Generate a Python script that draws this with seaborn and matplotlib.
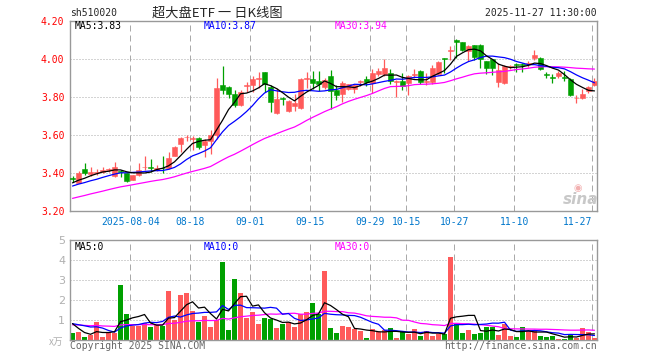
import matplotlib
matplotlib.use("Agg")
import matplotlib.pyplot as plt
import seaborn as sns
import pandas as pd
import numpy as np

# daily bars of sh510020 (07-21 .. 11-27)
open_ = [3.375, 3.350, 3.423, 3.395, 3.400, 3.407, 3.416, 3.385, 3.410, 3.400,
         3.365, 3.390, 3.430, 3.432, 3.418, 3.428, 3.426, 3.491, 3.555, 3.588,
         3.578, 3.583, 3.547, 3.568, 3.600, 3.863, 3.853, 3.816, 3.758, 3.860,
         3.863, 3.893, 3.930, 3.854, 3.718, 3.793, 3.728, 3.755, 3.740, 3.893,
         3.894, 3.886, 3.852, 3.908, 3.838, 3.815, 3.842, 3.840, 3.880, 3.895,
         3.874, 3.918, 3.918, 3.923, 3.878, 3.884, 3.872, 3.917, 3.937, 3.878,
         3.880, 3.919, 4.002, 4.040, 4.100, 4.086, 4.039, 4.070, 4.074, 3.986,
         4.000, 3.877, 3.875, 3.955, 3.972, 3.975, 3.973, 4.003, 4.005, 3.920,
         3.902, 3.909, 3.902, 3.895, 3.793, 3.795, 3.833, 3.865]
high = [3.387, 3.409, 3.456, 3.430, 3.420, 3.430, 3.425, 3.460, 3.418, 3.402,
        3.392, 3.456, 3.490, 3.474, 3.444, 3.491, 3.510, 3.544, 3.590, 3.600,
        3.593, 3.590, 3.580, 3.627, 3.900, 3.963, 3.855, 3.839, 3.839, 3.880,
        3.912, 3.930, 3.932, 3.863, 3.846, 3.800, 3.786, 3.815, 3.897, 3.930,
        3.935, 3.935, 3.900, 3.943, 3.864, 3.882, 3.870, 3.870, 3.890, 3.910,
        3.944, 3.953, 4.000, 3.944, 3.890, 3.925, 3.916, 3.947, 3.940, 3.925,
        3.968, 3.990, 4.004, 4.065, 4.102, 4.090, 4.074, 4.074, 4.077, 3.990,
        4.000, 3.977, 3.965, 3.970, 3.980, 3.978, 3.988, 4.044, 4.008, 3.930,
        3.918, 3.935, 3.935, 3.900, 3.812, 3.840, 3.856, 3.900]
low = [3.356, 3.347, 3.390, 3.383, 3.390, 3.400, 3.405, 3.380, 3.380, 3.355,
       3.362, 3.386, 3.415, 3.404, 3.414, 3.400, 3.420, 3.490, 3.510, 3.570,
       3.520, 3.527, 3.487, 3.503, 3.580, 3.814, 3.793, 3.746, 3.755, 3.828,
       3.825, 3.846, 3.828, 3.723, 3.710, 3.760, 3.720, 3.725, 3.735, 3.848,
       3.840, 3.829, 3.840, 3.736, 3.782, 3.771, 3.835, 3.820, 3.856, 3.860,
       3.820, 3.910, 3.909, 3.870, 3.800, 3.837, 3.810, 3.898, 3.868, 3.863,
       3.867, 3.916, 3.925, 3.995, 4.003, 4.040, 3.986, 3.995, 3.951, 3.919,
       3.916, 3.850, 3.870, 3.945, 3.930, 3.932, 3.958, 3.995, 3.940, 3.900,
       3.874, 3.900, 3.882, 3.804, 3.768, 3.790, 3.820, 3.856]
close = [3.370, 3.400, 3.400, 3.405, 3.408, 3.418, 3.420, 3.435, 3.405, 3.360,
         3.390, 3.418, 3.432, 3.428, 3.426, 3.425, 3.482, 3.537, 3.587, 3.592,
         3.582, 3.535, 3.568, 3.600, 3.847, 3.837, 3.816, 3.758, 3.825, 3.865,
         3.893, 3.897, 3.867, 3.775, 3.788, 3.787, 3.777, 3.770, 3.895, 3.897,
         3.873, 3.868, 3.887, 3.829, 3.812, 3.873, 3.866, 3.865, 3.883, 3.879,
         3.923, 3.935, 3.953, 3.882, 3.882, 3.860, 3.910, 3.921, 3.877, 3.882,
         3.954, 3.982, 3.998, 4.044, 4.086, 4.047, 4.065, 4.012, 4.000, 3.954,
         3.954, 3.940, 3.960, 3.960, 3.968, 3.965, 3.977, 4.018, 3.947, 3.916,
         3.898, 3.926, 3.898, 3.812, 3.797, 3.816, 3.851, 3.882]
# volume, in the panel's own unit
volume = [0.38, 0.42, 0.17, 0.27, 0.92, 0.17, 0.40, 0.38, 2.77, 1.32,
          0.73, 0.73, 0.88, 0.67, 0.77, 0.73, 2.47, 1.02, 2.27, 2.37,
          1.47, 0.92, 1.23, 0.67, 1.02, 3.88, 0.52, 3.07, 2.38, 1.13,
          1.42, 0.82, 1.12, 1.07, 0.62, 0.82, 0.90, 0.67, 1.30, 1.42,
          1.87, 1.30, 3.47, 0.62, 0.38, 0.72, 0.67, 0.57, 0.47, 0.12,
          0.57, 0.40, 0.52, 0.62, 0.12, 0.40, 0.32, 0.57, 0.22, 0.47,
          0.22, 0.32, 0.32, 4.17, 0.82, 0.38, 0.52, 0.32, 0.38, 0.67,
          0.67, 0.28, 0.82, 0.22, 0.18, 0.67, 0.47, 0.52, 0.22, 0.18,
          0.22, 0.08, 0.08, 0.32, 0.12, 0.62, 0.42, 0.12]

# days before the window, estimated from where the moving averages start
prior_close = [3.17, 3.18, 3.16, 3.19, 3.20, 3.18, 3.21, 3.19, 3.20, 3.22,
               3.24, 3.26, 3.25, 3.27, 3.29, 3.28, 3.30, 3.29, 3.31, 3.32,
               3.30, 3.32, 3.31, 3.33, 3.32, 3.33, 3.35, 3.34, 3.356]
prior_volume = [0.62, 0.85, 0.70, 0.55, 0.94, 0.66, 0.78, 0.58, 0.90, 0.72,
                0.80, 0.64, 0.86, 0.70, 0.60, 0.92, 0.68, 0.84, 0.74, 0.76,
                0.95, 0.70, 0.88, 0.82, 0.80, 1.60, 1.20, 0.71, 0.26]

tick_index = [10, 20, 30, 40, 50, 56, 64, 74, 87]
tick_labels = ["2025-08-04", "08-18", "09-01", "09-15", "09-29",
               "10-15", "10-27", "11-10", "11-27"]
price_ticks = [3.20, 3.40, 3.60, 3.80, 4.00, 4.20]
volume_ticks = [1, 2, 3, 4, 5]

RED = "#ff5a5a"
GREEN = "#00a000"
GRID = "#aaaaaa"
FRAME = "#999999"
MONO = "DejaVu Sans Mono"
W, H = 660, 360


def px(x, y):
    return x / W, 1 - y / H


def moving_averages(prior, values):
    s = pd.Series(prior + values)
    n0 = len(prior)
    return {n: s.rolling(n).mean().iloc[n0:].to_numpy() for n in (5, 10, 30)}


def style_axes(ax, yticks, ylim):
    ax.set_xlim(-0.42, 87.42)
    ax.set_ylim(*ylim)
    ax.set_facecolor("white")
    for sp in ax.spines.values():
        sp.set_color(FRAME)
        sp.set_linewidth(1.0)
    ax.set_yticks(yticks)
    ax.set_xticks([i - 0.37 for i in tick_index])
    ax.tick_params(length=0)
    ax.grid(False)
    for y in yticks:
        if ylim[0] < y < ylim[1]:
            ax.axhline(y, color=GRID, lw=0.72, ls=(0, (1, 2)), zorder=0)
    for x in ax.get_xticks():
        ax.axvline(x, color=GRID, lw=0.72, ls=(0, (6, 4)), zorder=0)


df = pd.DataFrame({"open": open_, "high": high, "low": low,
                   "close": close, "volume": volume})
df["x"] = np.arange(len(df))
df["up"] = df["close"] >= df["open"]
colors = np.where(df["up"], RED, GREEN)
ma_price = moving_averages(prior_close, close)
ma_vol = moving_averages(prior_volume, volume)

sns.set_theme(style="white")
plt.rcParams["font.family"] = [MONO, "Noto Sans CJK SC"]

fig = plt.figure(figsize=(W / 100, H / 100), dpi=100)
ax_p = fig.add_axes([70 / W, 1 - 211.3 / H, 527 / W, 190.6 / H])
ax_v = fig.add_axes([70 / W, 1 - 340.3 / H, 527 / W, 100.3 / H])

# price panel
style_axes(ax_p, price_ticks, (3.20, 4.20))
ax_p.set_yticklabels([f"{t:.2f}" for t in price_ticks], color="#ff0000",
                     fontsize=7, family=MONO)
ax_p.yaxis.set_tick_params(pad=4)
ax_p.set_xticklabels(tick_labels, color="#0077cc", fontsize=7, family=MONO)
ax_p.xaxis.set_tick_params(pad=4)
ax_p.get_xticklabels()[-1].set_ha("right")

ax_p.vlines(df["x"], df["low"], df["high"], colors=colors, lw=0.9, zorder=2)
body_lo = np.minimum(df["open"], df["close"])
body_h = (df["close"] - df["open"]).abs().clip(lower=0.003)
ax_p.bar(df["x"], body_h, bottom=body_lo, width=0.72, color=colors,
         edgecolor=colors, linewidth=0.4, zorder=3)
for n, c in ((30, "#ff00ff"), (10, "#0000ff"), (5, "black")):
    sns.lineplot(x=df["x"], y=ma_price[n], ax=ax_p, color=c, lw=0.9,
                 legend=False, zorder=4)
ax_p.set_xlabel("")
ax_p.set_ylabel("")

ax_p.text(*px(75, 26), "MA5:3.83", transform=fig.transFigure, color="black",
          fontsize=7, family=MONO, va="center")
ax_p.text(*px(204, 26), "MA10:3.87", transform=fig.transFigure, color="#0000ff",
          fontsize=7, family=MONO, va="center")
ax_p.text(*px(335, 26), "MA30:3.94", transform=fig.transFigure, color="#ff00ff",
          fontsize=7, family=MONO, va="center")

# faint sina mark in the lower right corner
ax_p.text(*px(581, 199), "sina", transform=fig.transFigure, color="#c8c8c8",
          fontsize=11, style="italic", weight="bold", family="DejaVu Sans",
          ha="center", va="center", zorder=1)
ax_p.text(*px(578, 188), "◉", transform=fig.transFigure, color="#f2b0b0",
          fontsize=7, family="DejaVu Sans", ha="center", va="center", zorder=1)

# volume panel
style_axes(ax_v, volume_ticks, (0, 5))
ax_v.set_yticklabels([str(t) for t in volume_ticks], color="#b0b0b0",
                     fontsize=8, family="DejaVu Sans")
ax_v.set_xticklabels([])
ax_v.bar(df["x"], df["volume"], width=0.82, color=colors, linewidth=0,
         zorder=2)
for n, c in ((30, "#ff00ff"), (10, "#0000ff"), (5, "black")):
    sns.lineplot(x=df["x"], y=ma_vol[n], ax=ax_v, color=c, lw=0.9,
                 legend=False, zorder=4)
ax_v.set_xlabel("")
ax_v.set_ylabel("")
ax_v.text(*px(75, 247), "MA5:0", transform=fig.transFigure, color="black",
          fontsize=7, family=MONO, va="center")
ax_v.text(*px(204, 247), "MA10:0", transform=fig.transFigure, color="#0000ff",
          fontsize=7, family=MONO, va="center")
ax_v.text(*px(335, 247), "MA30:0", transform=fig.transFigure, color="#ff00ff",
          fontsize=7, family=MONO, va="center")

# header and footer
fig.text(*px(70, 13), "sh510020", fontsize=7, family=MONO, va="center")
fig.text(*px(217, 13), "超大盘ETF 一 日K线图", fontsize=9.5, ha="center",
         va="center", family=["Noto Sans CJK SC", MONO])
fig.text(*px(597, 13), "2025-11-27 11:30:00", fontsize=7, family=MONO,
         ha="right", va="center")
fig.text(*px(70, 346), "Copyright 2025 SINA.COM", fontsize=7, family=MONO,
         color="#666666", va="center")
fig.text(*px(597, 346), "http://finance.sina.com.cn", fontsize=7, family=MONO,
         color="#666666", ha="right", va="center")
fig.text(*px(63, 342), "x万", fontsize=7, color="#b0b0b0", ha="right",
         va="center", family=["Noto Sans CJK SC", MONO])

fig.savefig("out.png", dpi=100, facecolor="white")
